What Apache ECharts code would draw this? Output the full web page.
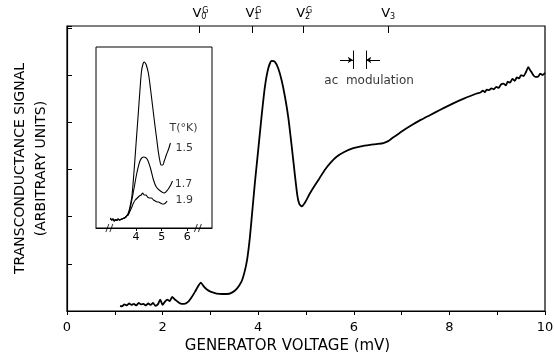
<!DOCTYPE html>
<html>
<head>
<meta charset="utf-8">
<script src="https://cdn.jsdelivr.net/npm/echarts@6/dist/echarts.min.js"></script>
<style>
  html, body { margin: 0; padding: 0; background: #fff; }
  #main { width: 554px; height: 352px; }
</style>
</head>
<body>
<div id="main"></div>
<script>
// main trace: generator voltage (mV) vs signal (arb. units)
var mainX = [1.11, 1.15, 1.2, 1.25, 1.3, 1.35, 1.4, 1.45, 1.5, 1.55, 1.6, 1.65, 1.7, 1.75, 1.8, 1.85, 1.9, 1.95, 2.0, 2.05,
  2.1, 2.15, 2.2, 2.25, 2.3, 2.35, 2.4, 2.45, 2.54, 2.6, 2.68, 2.74, 2.8, 2.86, 2.92, 3.0, 3.13, 3.25, 3.34, 3.45,
  3.55, 3.65, 3.72, 3.77, 3.82, 3.86, 3.93, 4.0, 4.07, 4.14, 4.21, 4.28, 4.35, 4.42, 4.49, 4.56, 4.63, 4.7, 4.77, 4.82,
  4.86, 4.91, 4.98, 5.08, 5.19, 5.28, 5.4, 5.52, 5.64, 5.8, 5.99, 6.15, 6.34, 6.5, 6.62, 6.72, 6.8, 6.9, 7.04, 7.18,
  7.4, 7.59, 7.8, 8.08, 8.3, 8.57, 8.65, 8.7, 8.74, 8.78, 8.83, 8.88, 8.93, 8.98, 9.03, 9.08, 9.13, 9.18, 9.22, 9.27,
  9.32, 9.37, 9.41, 9.46, 9.5, 9.55, 9.6, 9.65, 9.68, 9.72, 9.76, 9.8, 9.86, 9.9, 9.95, 10.0];
var mainY = [0.11, 0.10, 0.14, 0.12, 0.16, 0.13, 0.15, 0.12, 0.17, 0.14, 0.15, 0.12, 0.16, 0.13, 0.17, 0.11, 0.14, 0.24, 0.13, 0.20,
  0.24, 0.21, 0.30, 0.25, 0.21, 0.17, 0.15, 0.15, 0.2, 0.28, 0.41, 0.52, 0.6, 0.52, 0.46, 0.41, 0.37, 0.36, 0.36, 0.39,
  0.47, 0.62, 0.85, 1.1, 1.5, 1.93, 2.71, 3.41, 4.12, 4.75, 5.14, 5.3, 5.28, 5.14, 4.89, 4.54, 4.1, 3.5, 2.86, 2.44,
  2.27, 2.22, 2.3, 2.49, 2.67, 2.81, 3.0, 3.15, 3.27, 3.37, 3.45, 3.49, 3.52, 3.54, 3.56, 3.6, 3.66, 3.73, 3.83, 3.92,
  4.05, 4.15, 4.26, 4.4, 4.5, 4.61, 4.63, 4.67, 4.64, 4.69, 4.68, 4.72, 4.7, 4.75, 4.73, 4.8, 4.82, 4.78, 4.86, 4.84,
  4.92, 4.88, 4.95, 4.93, 5.0, 4.98, 5.06, 5.17, 5.12, 5.06, 4.99, 4.96, 4.97, 5.03, 5.0, 5.05];

// top markers
var vValues = [2.77, 3.88, 4.94, 6.72];
var vSub = ['0', '1', '2', '3'];
var vSup = ['G', 'G', 'G', ''];

// inset: common noisy base then each temperature
var baseX = [3.0, 3.05, 3.1, 3.15, 3.2, 3.25, 3.3, 3.35, 3.4, 3.45, 3.5, 3.55, 3.6, 3.65];
var baseY = [1.0, 0.8, 0.9, 0.7, 0.85, 0.75, 0.9, 0.8, 0.85, 0.9, 0.95, 1.0, 1.1, 1.25];
var t15X = [3.7, 3.77, 3.84, 3.92, 4.0, 4.08, 4.15, 4.21, 4.27, 4.32, 4.36, 4.4, 4.48, 4.56, 4.64, 4.72, 4.8, 4.87,
  4.93, 4.98, 5.04, 5.1, 5.18, 5.27, 5.34];
var t15Y = [1.5, 2.2, 3.2, 5.6, 8.4, 11.2, 13.7, 15.6, 16.4, 16.6, 16.5, 16.3, 15.5, 14.0, 12.3, 10.6, 9.0, 7.6,
  6.7, 6.3, 6.3, 6.7, 7.3, 7.9, 8.5];
var t17X = [3.69, 3.78, 3.91, 4.04, 4.17, 4.3, 4.43, 4.56, 4.68, 4.79, 4.95, 5.1, 5.23, 5.37, 5.42];
var t17Y = [1.3, 2.1, 3.8, 5.6, 6.8, 7.1, 6.9, 6.0, 4.8, 4.1, 3.7, 3.5, 3.8, 4.4, 4.7];
var t19X = [3.69, 3.75, 3.82, 3.9, 3.97, 4.05, 4.13, 4.2, 4.26, 4.32, 4.39, 4.45, 4.52, 4.6, 4.68, 4.75, 4.82, 4.88,
  4.95, 5.02, 5.08, 5.15, 5.21];
var t19Y = [1.3, 1.6, 2.0, 2.5, 2.8, 3.0, 3.2, 3.3, 3.5, 3.3, 3.3, 3.1, 3.0, 3.0, 2.8, 2.7, 2.6, 2.6,
  2.5, 2.4, 2.4, 2.5, 2.7];
var insetTicks = [4, 5, 6];
var tempLabels = ['T(°K)', '1.5', '1.7', '1.9'];
var tempLabelX = [5.85, 5.88, 5.85, 5.88];
var tempLabelY = [10.0, 8.0, 4.4, 2.8];
var breakX = [2.96, 6.41];

// ac modulation marker
var modLeft = 5.98, modRight = 6.26, modY = 5.32;

function pairs(xs, ys) {
  var out = [];
  for (var i = 0; i < xs.length; i++) out.push([xs[i], ys[i]]);
  return out;
}

var chart = echarts.init(document.getElementById('main'));
var font = 'DejaVu Sans';

var option = {
  backgroundColor: '#fff',
  animation: false,
  textStyle: { fontFamily: font, color: '#000' },
  grid: [
    { left: 67, right: 9, top: 26, bottom: 41, outerBoundsMode: 'none', show: true, borderColor: '#000', borderWidth: 1.2 },
    { left: 96, top: 47, width: 116, height: 181, outerBoundsMode: 'none', show: true, backgroundColor: '#fff', borderColor: '#000', borderWidth: 1 }
  ],
  xAxis: [
    {
      gridIndex: 0, type: 'value', min: 0, max: 10, interval: 1,
      axisLine: { lineStyle: { color: '#000', width: 1.2 } },
      axisTick: { length: 4, lineStyle: { color: '#000' } },
      splitLine: { show: false },
      axisLabel: {
        color: '#000', fontSize: 13, margin: 10, fontFamily: font,
        formatter: function (v) { return v % 2 === 0 ? String(v) : ''; }
      },
      name: 'GENERATOR VOLTAGE (mV)', nameLocation: 'middle', nameGap: 21,
      nameTextStyle: { fontSize: 15, color: '#000', fontFamily: font, padding: [0, 37, 0, 0] }
    },
    {
      gridIndex: 0, type: 'value', min: 0, max: 10, position: 'top',
      axisLine: { show: false },
      axisTick: { show: true, inside: true, length: 7, customValues: vValues, lineStyle: { color: '#000' } },
      splitLine: { show: false },
      axisLabel: {
        customValues: vValues, margin: 5, color: '#000', fontFamily: font,
        formatter: function (v) { return 'V{s|' + vSub[vValues.indexOf(v)] + '}'; },
        fontSize: 13,
        rich: { s: { fontSize: 8, padding: [6, 0, 0, 0], fontFamily: font } }
      }
    },
    {
      gridIndex: 0, type: 'value', min: 0, max: 10, position: 'top',
      axisLine: { show: false }, axisTick: { show: false }, splitLine: { show: false },
      axisLabel: {
        customValues: vValues, margin: 11, color: '#000', fontFamily: font, fontSize: 8,
        formatter: function (v) { var s = vSup[vValues.indexOf(v)]; return s ? '{g|' + s + '}' : ''; },
        rich: { g: { fontSize: 8, padding: [0, 0, 0, 12], fontFamily: font } }
      }
    },
    {
      gridIndex: 1, type: 'value', min: 2.44, max: 6.96,
      axisLine: { lineStyle: { color: '#000', width: 1 } },
      axisTick: { length: 3, customValues: insetTicks, lineStyle: { color: '#000' } },
      splitLine: { show: false },
      axisLabel: { customValues: insetTicks, color: '#000', fontSize: 11, margin: 4, fontFamily: font }
    }
  ],
  yAxis: [
    {
      gridIndex: 0, type: 'value', min: 0, max: 6.04, interval: 1,
      axisLine: { show: true, lineStyle: { color: '#000', width: 1.2 } },
      axisTick: { inside: true, length: 5, lineStyle: { color: '#000' } },
      axisLabel: { show: false },
      splitLine: { show: false },
      name: 'TRANSCONDUCTANCE SIGNAL\n(ARBITRARY UNITS)', nameLocation: 'middle', nameRotate: 90, nameGap: 15,
      nameTextStyle: { fontSize: 14, lineHeight: 21, color: '#000', fontFamily: font, align: 'center' }
    },
    {
      gridIndex: 1, type: 'value', min: 0, max: 18.1,
      axisLine: { show: false }, axisTick: { show: false }, axisLabel: { show: false }, splitLine: { show: false }
    }
  ],
  series: [
    {
      type: 'line', xAxisIndex: 0, yAxisIndex: 0, data: pairs(mainX, mainY),
      showSymbol: false, smooth: 0.2, lineStyle: { color: '#000', width: 1.8 }, silent: true,
      markLine: {
        silent: true, animation: false, symbol: ['none', 'none'],
        label: { show: false },
        lineStyle: { color: '#000', width: 1, type: 'solid' },
        data: [
          [{ coord: [modLeft - 0.27, modY], symbol: 'none' }, { coord: [modLeft, modY], symbol: 'arrow', symbolSize: 5 }],
          [{ coord: [modRight + 0.29, modY], symbol: 'none' }, { coord: [modRight, modY], symbol: 'arrow', symbolSize: 5 }],
          [{ coord: [modLeft, modY - 0.19] }, { coord: [modLeft, modY + 0.2] }],
          [{ coord: [modRight, modY - 0.19] }, { coord: [modRight, modY + 0.2] }]
        ]
      }
    },
    {
      type: 'scatter', xAxisIndex: 0, yAxisIndex: 0, symbolSize: 0, silent: true,
      data: [[6.32, 4.87]],
      label: { show: true, position: 'inside', formatter: 'ac  modulation', fontSize: 12, color: '#000', fontFamily: font }
    },
    {
      type: 'line', xAxisIndex: 3, yAxisIndex: 1, data: pairs(baseX.concat(t15X), baseY.concat(t15Y)),
      showSymbol: false, smooth: 0.3, lineStyle: { color: '#000', width: 1.1 }, silent: true
    },
    {
      type: 'line', xAxisIndex: 3, yAxisIndex: 1, data: pairs(baseX.concat(t17X), baseY.concat(t17Y)),
      showSymbol: false, smooth: 0.3, lineStyle: { color: '#000', width: 1.1 }, silent: true
    },
    {
      type: 'line', xAxisIndex: 3, yAxisIndex: 1, data: pairs(baseX.concat(t19X), baseY.concat(t19Y)),
      showSymbol: false, smooth: 0.2, lineStyle: { color: '#000', width: 1.1 }, silent: true
    },
    {
      type: 'scatter', xAxisIndex: 3, yAxisIndex: 1, symbolSize: 0, silent: true,
      data: tempLabels.map(function (t, i) { return [tempLabelX[i], tempLabelY[i], t]; }),
      label: {
        show: true, position: 'inside', fontSize: 11, color: '#000', fontFamily: font,
        formatter: function (p) { return p.data[2]; }
      }
    },
    {
      type: 'scatter', xAxisIndex: 3, yAxisIndex: 1, silent: true,
      symbol: 'path://M0,10 L3,0 M4,10 L7,0', symbolSize: [7, 8],
      itemStyle: { color: 'none', borderColor: '#000', borderWidth: 1 },
      data: breakX.map(function (x) { return [x, 0]; })
    }
  ]
};

chart.setOption(option);
</script>
</body>
</html>
